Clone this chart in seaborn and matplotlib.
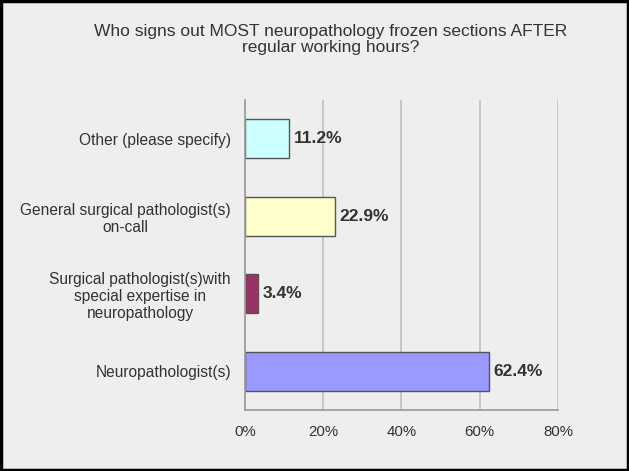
import numpy as np
import pandas as pd
import matplotlib.pyplot as plt
import matplotlib.patches as mpatches
from matplotlib.ticker import PercentFormatter
import seaborn as sns

categories = [
    'Other (please specify)',
    'General surgical pathologist(s)\non-call',
    'Surgical pathologist(s)with\nspecial expertise in\nneuropathology',
    'Neuropathologist(s)',
]
values = [11.2, 22.9, 3.4, 62.4]
colors = ['#ccffff', '#ffffcc', '#993366', '#9999ff']
title = 'Who signs out MOST neuropathology frozen sections AFTER\nregular working hours?'

df = pd.DataFrame({'category': categories, 'value': values})

sns.set_style('white')
plt.rcParams['font.family'] = ['Liberation Sans', 'DejaVu Sans']
bg = '#eeeeee'
txt = '#333333'

fig = plt.figure(figsize=(6.29, 4.71), dpi=100, facecolor=bg)
ax = fig.add_axes([0.3895, 0.1295, 0.4975, 0.658])
ax.set_facecolor(bg)

sns.barplot(data=df, y='category', x='value', hue='category',
            palette=colors, saturation=1, orient='h', width=0.5, legend=False,
            edgecolor='#555555', linewidth=1, ax=ax)

ax.set_xlim(0, 80)
ax.set_ylim(3.5, -0.5)
ax.set_xticks([0, 20, 40, 60, 80])
ax.xaxis.set_major_formatter(PercentFormatter(decimals=0))
ax.set_yticks([0.5, 1.5, 2.5], minor=True)
ax.tick_params(axis='y', which='major', length=0, pad=10, labelsize=11.2, labelcolor=txt)
ax.tick_params(axis='y', which='minor', length=5, color='#999999', direction='out')
ax.tick_params(axis='x', length=5, color='#999999', labelsize=10.8, labelcolor=txt, pad=6)
for lab in ax.get_yticklabels():
    lab.set_multialignment('center')
ax.set_xlabel('')
ax.set_ylabel('')
ax.xaxis.grid(True, color='#c0c0c0', linewidth=1.2)
ax.set_axisbelow(True)
for s in ['top', 'right']:
    ax.spines[s].set_visible(False)
for s in ['left', 'bottom']:
    ax.spines[s].set_color('#999999')
    ax.spines[s].set_linewidth(1.2)

for i, v in enumerate(values):
    ax.text(v + 1.2, i, f'{v}%', va='center', ha='left',
            fontsize=12.5, fontweight='bold', color=txt)

fig.text(0.525, 0.948, title, ha='center', va='top', fontsize=12.5,
         color=txt, linespacing=1.05)

fig.patches.append(mpatches.Rectangle((0.002, 0.002), 0.996, 0.996,
                                      transform=fig.transFigure, fill=False,
                                      edgecolor='black', linewidth=2.5))

fig.savefig('out.png', dpi=100, facecolor=bg)
